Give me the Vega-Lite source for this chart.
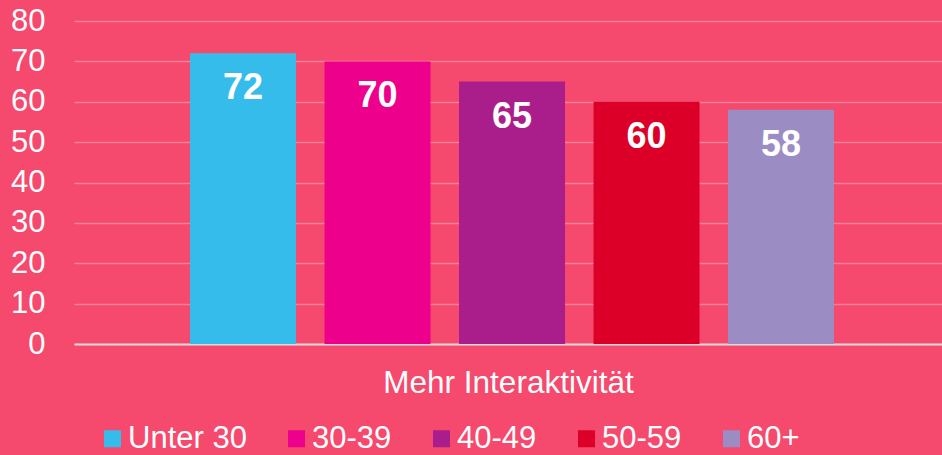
{
  "$schema": "https://vega.github.io/schema/vega-lite/v6.json",
  "width": 868,
  "height": 323,
  "autosize": {"type": "none"},
  "padding": {"left": 74, "top": 21, "right": 0, "bottom": 111},
  "background": "#f5496d",
  "config": {
    "view": {"stroke": null},
    "font": "Liberation Sans",
    "axis": {"labelFont": "Liberation Sans", "titleFont": "Liberation Sans"},
    "legend": {"labelFont": "Liberation Sans"}
  },
  "data": {
    "values": [
      {"category": "Mehr Interaktivität", "group": "Unter 30", "value": 72},
      {"category": "Mehr Interaktivität", "group": "30-39", "value": 70},
      {"category": "Mehr Interaktivität", "group": "40-49", "value": 65},
      {"category": "Mehr Interaktivität", "group": "50-59", "value": 60},
      {"category": "Mehr Interaktivität", "group": "60+", "value": 58}
    ]
  },
  "encoding": {
    "x": {
      "field": "group",
      "type": "nominal",
      "sort": ["Unter 30", "30-39", "40-49", "50-59", "60+"],
      "scale": {"paddingInner": 0.212, "paddingOuter": 0.8327, "align": 0.518},
      "axis": {
        "title": "Mehr Interaktivität",
        "labels": false,
        "ticks": false,
        "domain": true,
        "domainColor": "#d9d9d9",
        "domainWidth": 2,
        "titleFontSize": 31.5,
        "titleFontWeight": "normal",
        "titleColor": "#ffffff",
        "titlePadding": 23
      }
    },
    "y": {
      "field": "value",
      "type": "quantitative",
      "scale": {"domain": [0, 80], "nice": false},
      "axis": {
        "title": null,
        "values": [0, 10, 20, 30, 40, 50, 60, 70, 80],
        "domain": false,
        "ticks": false,
        "labelFontSize": 31,
        "labelColor": "#ffffff",
        "labelPadding": 29,
        "grid": true,
        "gridColor": "#ffffff",
        "gridOpacity": 0.3,
        "gridWidth": 1.5
      }
    }
  },
  "layer": [
    {
      "mark": {"type": "bar"},
      "encoding": {
        "color": {
          "field": "group",
          "type": "nominal",
          "sort": ["Unter 30", "30-39", "40-49", "50-59", "60+"],
          "scale": {
            "domain": ["Unter 30", "30-39", "40-49", "50-59", "60+"],
            "range": ["#35bceb", "#ec008c", "#a91e8b", "#dc0028", "#9b8dc3"]
          },
          "legend": {
            "title": null,
            "orient": "none",
            "direction": "horizontal",
            "legendX": 23,
            "legendY": 402,
            "symbolType": "square",
            "symbolSize": 289,
            "symbolStrokeWidth": 0,
            "symbolOpacity": 1,
            "labelFontSize": 31,
            "labelColor": "#ffffff",
            "labelOffset": 0,
            "columnPadding": 34,
            "labelLimit": 300
          }
        }
      }
    },
    {
      "mark": {
        "type": "text",
        "baseline": "top",
        "dy": 18,
        "fontSize": 36,
        "fontWeight": "bold",
        "color": "#ffffff"
      },
      "encoding": {
        "text": {"field": "value", "type": "quantitative"}
      }
    }
  ]
}
